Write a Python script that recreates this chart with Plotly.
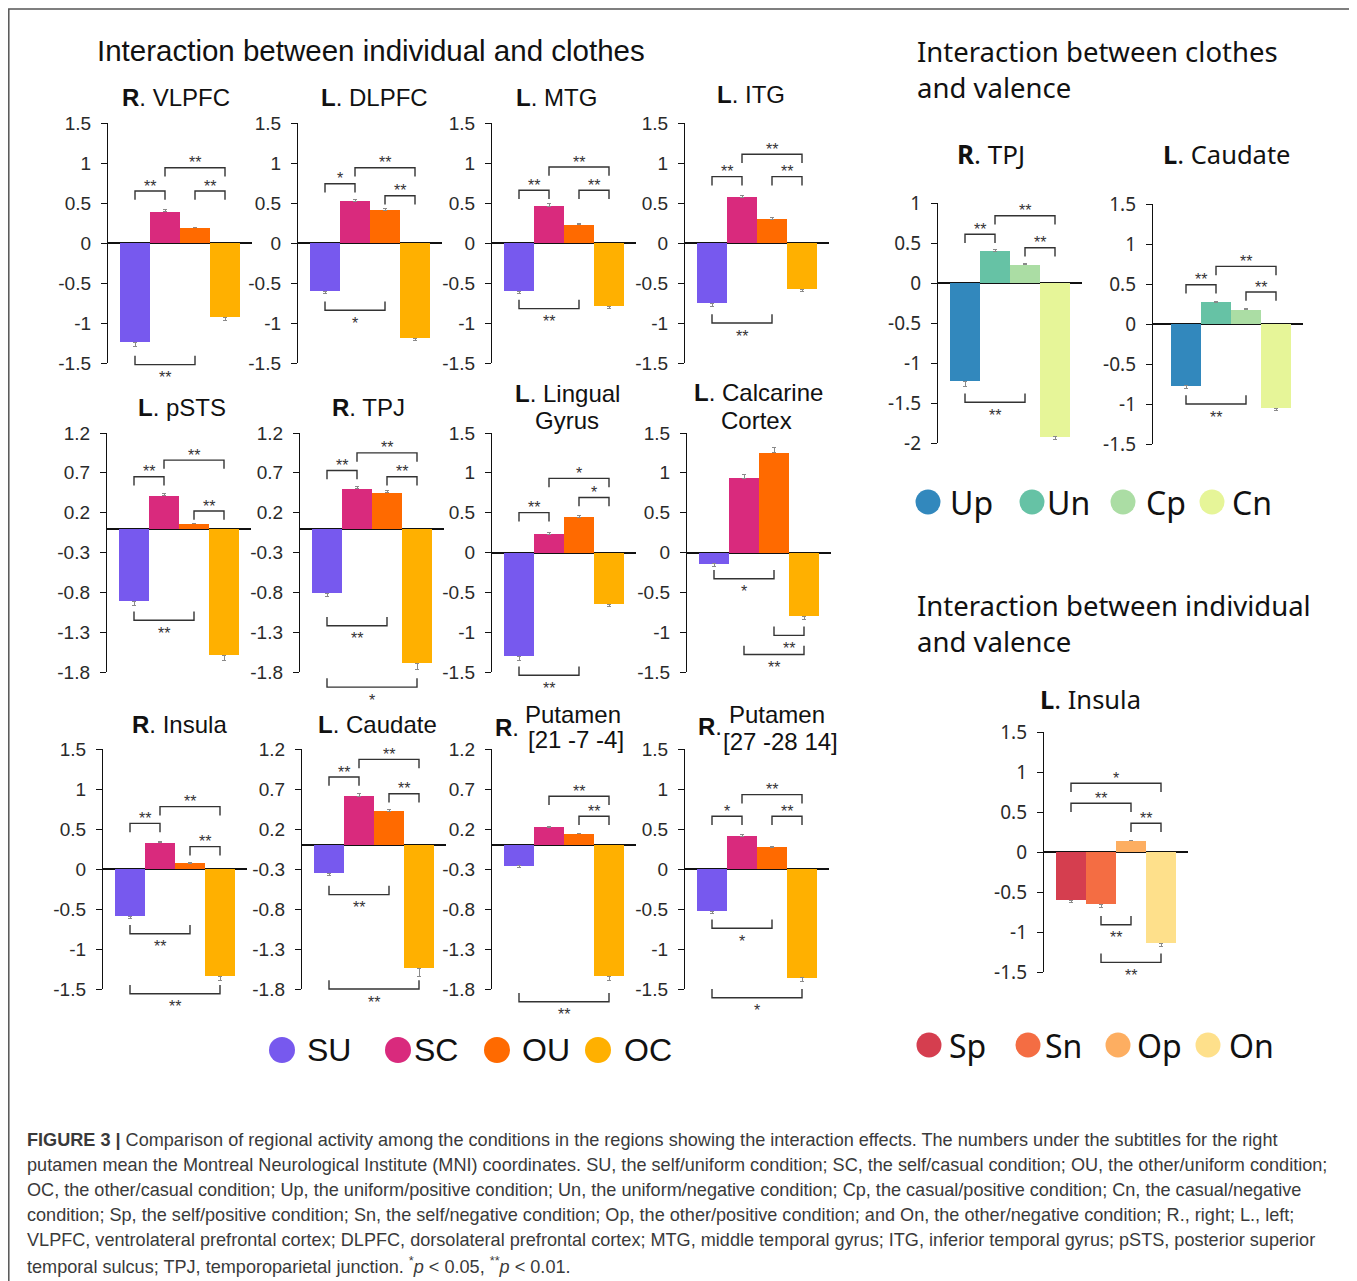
import plotly.graph_objects as go

W, H = 1357, 1281
OFF = 8  # page body margin of the viewer; paper coordinates are shifted by it

# ---------------- data ----------------
COND_IC = ["SU", "SC", "OU", "OC"]
COLORS_IC = ["#7759ee", "#d92a7d", "#ff6a00", "#ffb000"]
COND_CV = ["Up", "Un", "Cp", "Cn"]
COLORS_CV = ["#3288bd", "#66c2a5", "#abdda4", "#e6f598"]
COND_IV = ["Sp", "Sn", "Op", "On"]
COLORS_IV = ["#d53e4f", "#f46d43", "#fdae61", "#fee08b"]

R_VLPFC = [-1.24, 0.39, 0.19, -0.93]
L_DLPFC = [-0.60, 0.52, 0.41, -1.19]
L_MTG = [-0.60, 0.46, 0.23, -0.79]
L_ITG = [-0.75, 0.57, 0.30, -0.58]
L_PSTS = [-0.91, 0.41, 0.06, -1.59]
R_TPJ = [-0.81, 0.50, 0.45, -1.69]
L_LINGUAL = [-1.30, 0.23, 0.44, -0.65]
L_CALCARINE = [-0.14, 0.93, 1.25, -0.80]
R_INSULA = [-0.59, 0.33, 0.07, -1.34]
L_CAUDATE = [-0.35, 0.61, 0.42, -1.54]
R_PUTAMEN_1 = [-0.26, 0.22, 0.14, -1.64]
R_PUTAMEN_2 = [-0.53, 0.41, 0.27, -1.36]
CV_R_TPJ = [-1.23, 0.40, 0.23, -1.92]
CV_L_CAUDATE = [-0.77, 0.27, 0.18, -1.05]
IV_L_INSULA = [-0.60, -0.65, 0.14, -1.14]

ERR_VLPFC = [0.05, 0.03, 0.01, 0.04]
ERR_DLPFC = [0.03, 0.03, 0.02, 0.03]
ERR_MTG = [0.03, 0.03, 0.02, 0.03]
ERR_ITG = [0.04, 0.03, 0.02, 0.03]
ERR_PSTS = [0.05, 0.03, 0.01, 0.06]
ERR_TPJ = [0.04, 0.03, 0.03, 0.08]
ERR_LINGUAL = [0.06, 0.02, 0.02, 0.03]
ERR_CALCARINE = [0.03, 0.05, 0.07, 0.04]
ERR_INSULA = [0.03, 0.02, 0.01, 0.05]
ERR_CAUDATE = [0.03, 0.04, 0.03, 0.10]
ERR_PUT1 = [0.02, 0.01, 0.01, 0.05]
ERR_PUT2 = [0.03, 0.02, 0.01, 0.04]
ERR_CV_TPJ = [0.06, 0.02, 0.01, 0.04]
ERR_CV_CAUD = [0.04, 0.01, 0.01, 0.03]
ERR_IV_INS = [0.03, 0.04, 0.01, 0.04]

# significance brackets: (bar i, bar j, level, side, label)
BR_VLPFC = [(0, 1, 0.65, "t", "**"), (1, 3, 0.94, "t", "**"), (2, 3, 0.65, "t", "**"), (0, 2, -1.52, "b", "**")]
BR_DLPFC = [(0, 1, 0.74, "t", "*"), (1, 3, 0.94, "t", "**"), (2, 3, 0.59, "t", "**"), (0, 2, -0.84, "b", "*")]
BR_MTG = [(0, 1, 0.66, "t", "**"), (1, 3, 0.95, "t", "**"), (2, 3, 0.66, "t", "**"), (0, 2, -0.82, "b", "**")]
BR_ITG = [(0, 1, 0.83, "t", "**"), (1, 3, 1.11, "t", "**"), (2, 3, 0.83, "t", "**"), (0, 2, -1.00, "b", "**")]
BR_PSTS = [(0, 1, 0.65, "t", "**"), (1, 3, 0.86, "t", "**"), (2, 3, 0.22, "t", "**"), (0, 2, -1.15, "b", "**")]
BR_TPJ = [(0, 1, 0.73, "t", "**"), (1, 3, 0.95, "t", "**"), (2, 3, 0.65, "t", "**"), (0, 2, -1.22, "b", "**"), (0, 3, -1.99, "b", "*")]
BR_LINGUAL = [(0, 1, 0.50, "t", "**"), (1, 3, 0.93, "t", "*"), (2, 3, 0.69, "t", "*"), (0, 2, -1.54, "b", "**")]
BR_CALCARINE = [(0, 2, -0.33, "b", "*"), (2, 3, -1.04, "b", "**"), (1, 3, -1.28, "b", "**")]
BR_INSULA = [(0, 1, 0.57, "t", "**"), (1, 3, 0.78, "t", "**"), (2, 3, 0.28, "t", "**"), (0, 2, -0.81, "b", "**"), (0, 3, -1.56, "b", "**")]
BR_CAUDATE = [(0, 1, 0.85, "t", "**"), (1, 3, 1.07, "t", "**"), (2, 3, 0.64, "t", "**"), (0, 2, -0.62, "b", "**"), (0, 3, -1.80, "b", "**")]
BR_PUT1 = [(1, 3, 0.61, "t", "**"), (2, 3, 0.36, "t", "**"), (0, 3, -1.96, "b", "**")]
BR_PUT2 = [(0, 1, 0.66, "t", "*"), (1, 3, 0.93, "t", "**"), (2, 3, 0.66, "t", "**"), (0, 2, -0.74, "b", "*"), (0, 3, -1.61, "b", "*")]
BR_CV_TPJ = [(0, 1, 0.61, "t", "**"), (1, 3, 0.84, "t", "**"), (2, 3, 0.44, "t", "**"), (0, 2, -1.49, "b", "**")]
BR_CV_CAUD = [(0, 1, 0.49, "t", "**"), (1, 3, 0.72, "t", "**"), (2, 3, 0.40, "t", "**"), (0, 2, -1.00, "b", "**")]
BR_IV_INS = [(0, 3, 0.86, "t", "*"), (0, 2, 0.61, "t", "**"), (2, 3, 0.36, "t", "**"), (1, 2, -0.91, "b", "**"), (1, 3, -1.38, "b", "**")]

TICKS_15 = [-1.5, -1, -0.5, 0, 0.5, 1, 1.5]
TICKS_12 = [-1.8, -1.3, -0.8, -0.3, 0.2, 0.7, 1.2]
TICKS_10 = [-2, -1.5, -1, -0.5, 0, 0.5, 1]

ARIAL = "Liberation Sans, Arial, sans-serif"
NOTO = "Noto Sans, sans-serif"
NARROW = "Liberation Sans Narrow, Liberation Sans, sans-serif"

panels = [
    dict(v=R_VLPFC, e=ERR_VLPFC, c=COND_IC, col=COLORS_IC, br=BR_VLPFC, t=TICKS_15, x0=108, yt=123, yb=363),
    dict(v=L_DLPFC, e=ERR_DLPFC, c=COND_IC, col=COLORS_IC, br=BR_DLPFC, t=TICKS_15, x0=298, yt=123, yb=363),
    dict(v=L_MTG, e=ERR_MTG, c=COND_IC, col=COLORS_IC, br=BR_MTG, t=TICKS_15, x0=492, yt=123, yb=363),
    dict(v=L_ITG, e=ERR_ITG, c=COND_IC, col=COLORS_IC, br=BR_ITG, t=TICKS_15, x0=685, yt=123, yb=363),
    dict(v=L_PSTS, e=ERR_PSTS, c=COND_IC, col=COLORS_IC, br=BR_PSTS, t=TICKS_12, x0=107, yt=433, yb=672),
    dict(v=R_TPJ, e=ERR_TPJ, c=COND_IC, col=COLORS_IC, br=BR_TPJ, t=TICKS_12, x0=300, yt=433, yb=672),
    dict(v=L_LINGUAL, e=ERR_LINGUAL, c=COND_IC, col=COLORS_IC, br=BR_LINGUAL, t=TICKS_15, x0=492, yt=433, yb=672),
    dict(v=L_CALCARINE, e=ERR_CALCARINE, c=COND_IC, col=COLORS_IC, br=BR_CALCARINE, t=TICKS_15, x0=687, yt=433, yb=672),
    dict(v=R_INSULA, e=ERR_INSULA, c=COND_IC, col=COLORS_IC, br=BR_INSULA, t=TICKS_15, x0=103, yt=749, yb=989),
    dict(v=L_CAUDATE, e=ERR_CAUDATE, c=COND_IC, col=COLORS_IC, br=BR_CAUDATE, t=TICKS_12, x0=302, yt=749, yb=989),
    dict(v=R_PUTAMEN_1, e=ERR_PUT1, c=COND_IC, col=COLORS_IC, br=BR_PUT1, t=TICKS_12, x0=492, yt=749, yb=989),
    dict(v=R_PUTAMEN_2, e=ERR_PUT2, c=COND_IC, col=COLORS_IC, br=BR_PUT2, t=TICKS_15, x0=685, yt=749, yb=989),
    dict(v=CV_R_TPJ, e=ERR_CV_TPJ, c=COND_CV, col=COLORS_CV, br=BR_CV_TPJ, t=TICKS_10, x0=938, yt=203, yb=443, font=NOTO),
    dict(v=CV_L_CAUDATE, e=ERR_CV_CAUD, c=COND_CV, col=COLORS_CV, br=BR_CV_CAUD, t=TICKS_15, x0=1153, yt=204, yb=444, font=NOTO, xl=-1.1),
    dict(v=IV_L_INSULA, e=ERR_IV_INS, c=COND_IV, col=COLORS_IV, br=BR_IV_INS, t=TICKS_15, x0=1044, yt=732, yb=972, font=NOTO),
]

UNIT = 30.0   # px per category
XR = (-0.9, 3.9)
TL = 0.11     # bracket tick length (data units)
EXT = 0.7     # extra room (data units) of the invisible bracket axes


def px(x):
    return (x - OFF) / W


def py(y):
    return 1 - (y - OFF) / H


fig = go.Figure()
layout_axes = {}
shapes = []
annotations = []
NP = len(panels)

for k, p in enumerate(panels):
    n = k + 1
    sfx = "" if n == 1 else str(n)
    xa, ya = "x" + sfx, "y" + sfx
    bx, by = "x" + str(n + NP), "y" + str(n + NP)
    xl = p.get("xl", XR[0])
    x1 = p["x0"] + (XR[1] - xl) * UNIT
    lo, hi = p["t"][0], p["t"][-1]
    ppu = (p["yb"] - p["yt"]) / (hi - lo)  # pixels per data unit
    vals, errs = p["v"], p["e"]
    fig.add_trace(go.Bar(
        x=list(range(len(vals))), y=vals, width=1.0,
        marker=dict(color=p["col"], line=dict(width=0)),
        error_y=dict(type="data", symmetric=False,
                     array=[e if v > 0 else 0 for v, e in zip(vals, errs)],
                     arrayminus=[e if v < 0 else 0 for v, e in zip(vals, errs)],
                     color="#8a8a8a", thickness=1, width=2),
        hovertext=p["c"], xaxis=xa, yaxis=ya, showlegend=False))
    # empty trace so the (unclipped-room) bracket subplot exists
    fig.add_trace(go.Scatter(x=[], y=[], xaxis=bx, yaxis=by, showlegend=False, hoverinfo="skip"))
    tf = p.get("font", ARIAL)
    layout_axes["xaxis" + sfx] = dict(domain=[px(p["x0"]), px(x1)], range=[xl, XR[1]], visible=False,
                                       anchor=ya, fixedrange=True, automargin=False)
    layout_axes["yaxis" + sfx] = dict(domain=[py(p["yb"]), py(p["yt"])],
                                       range=[lo, hi], anchor=xa, automargin=False,
                                       tickvals=p["t"], ticktext=[f"{t:g}" for t in p["t"]],
                                       showline=True, linecolor="#111", linewidth=1.3,
                                       ticks="outside", ticklen=6, tickwidth=1.3, tickcolor="#111",
                                       ticklabelstandoff=6,
                                       showgrid=False, zeroline=True, zerolinecolor="#111",
                                       zerolinewidth=1.5,
                                       tickfont=dict(family=tf, size=19, color="#2a2a2a"))
    layout_axes["xaxis" + str(n + NP)] = dict(domain=[px(p["x0"]), px(x1)], range=[xl, XR[1]],
                                              visible=False, anchor=by, automargin=False)
    layout_axes["yaxis" + str(n + NP)] = dict(domain=[py(p["yb"] + EXT * ppu), py(p["yt"] - EXT * ppu)],
                                              range=[lo - EXT, hi + EXT], visible=False, anchor=bx,
                                              automargin=False, showgrid=False, zeroline=False)
    for (i, j, lvl, side, lab) in p["br"]:
        h = -TL if side == "t" else TL
        shapes.append(dict(type="path", xref=bx, yref=by,
                           path=f"M {i},{lvl + h} L {i},{lvl} L {j},{lvl} L {j},{lvl + h}",
                           line=dict(color="#333", width=1.4)))
        annotations.append(dict(xref=bx, yref=by, x=(i + j) / 2, y=lvl, text=lab, showarrow=False,
                                yanchor="middle", yshift=5 if side == "t" else -13,
                                font=dict(family=ARIAL, size=16, color="#333")))


def txt(x, y, s, size, family=ARIAL, xanchor="center", color="#111"):
    annotations.append(dict(xref="paper", yref="paper", x=px(x), y=py(y), text=s, showarrow=False,
                            xanchor=xanchor, yanchor="middle", align=xanchor if xanchor != "center" else "center",
                            font=dict(family=family, size=size, color=color)))


# headings
txt(371, 50, "Interaction between individual and clothes", 29.5)
txt(915, 69, "Interaction between clothes<br>and valence", 27.5, NOTO, "left")
txt(915, 623, "Interaction between individual<br>and valence", 27.5, NOTO, "left")

# panel titles
TS = 24
txt(176, 98, "<b>R</b>. VLPFC", TS)
txt(374, 98, "<b>L</b>. DLPFC", TS)
txt(556, 98, "<b>L</b>. MTG", TS)
txt(751, 95, "<b>L</b>. ITG", TS)
txt(182, 407, "<b>L</b>. pSTS", TS)
txt(368, 407, "<b>R</b>. TPJ", TS)
txt(567, 393, "<b>L</b>. Lingual", TS)
txt(567, 420, "Gyrus", TS)
txt(758, 392, "<b>L</b>. Calcarine", TS)
txt(757, 420, "Cortex", TS)
txt(179, 725, "<b>R</b>. Insula", TS)
txt(377, 725, "<b>L</b>. Caudate", TS)
txt(507, 727, "<b>R</b>.", TS)
txt(573, 715, "Putamen", TS)
txt(576, 739, "[21 -7 -4]", TS)
txt(710, 726, "<b>R</b>.", TS)
txt(777, 715, "Putamen", TS)
txt(780, 741, "[27 -28 14]", TS)
txt(991, 154, "<b>R</b>. TPJ", 26, NOTO)
txt(1227, 154, "<b>L</b>. Caudate", 25.5, NOTO)
txt(1090, 699, "<b>L</b>. Insula", 25.5, NOTO)


# legends (circle + label)
def legend(items, colors, cx, tx, y, family, r):
    for name, c, a, b in zip(items, colors, cx, tx):
        shapes.append(dict(type="circle", xref="paper", yref="paper",
                           x0=px(a - r), x1=px(a + r), y0=py(y + r), y1=py(y - r),
                           fillcolor=c, line=dict(width=0)))
        txt(b, y, name, 32, family, "left")


legend(COND_IC, COLORS_IC, [282, 398, 497, 598], [305, 412, 520, 622], 1050, ARIAL, 13)
legend(COND_CV, COLORS_CV, [928, 1032, 1123, 1212], [948, 1045, 1144, 1230], 502, NOTO, 12.5)
legend(COND_IV, COLORS_IV, [929, 1028, 1118, 1208], [947, 1043, 1135, 1227], 1045, NOTO, 12.5)

# frame
shapes.append(dict(type="rect", xref="paper", yref="paper", x0=px(8.8), x1=px(1355), y0=py(1295), y1=py(9),
                   line=dict(color="#555", width=1.5)))

# caption
CAPTION = [
    "<b>FIGURE 3 |</b> Comparison of regional activity among the conditions in the regions showing the interaction effects. The numbers under the subtitles for the right",
    "putamen mean the Montreal Neurological Institute (MNI) coordinates. SU, the self/uniform condition; SC, the self/casual condition; OU, the other/uniform condition;",
    "OC, the other/casual condition; Up, the uniform/positive condition; Un, the uniform/negative condition; Cp, the casual/positive condition; Cn, the casual/negative",
    "condition; Sp, the self/positive condition; Sn, the self/negative condition; Op, the other/positive condition; and On, the other/negative condition; R., right; L., left;",
    "VLPFC, ventrolateral prefrontal cortex; DLPFC, dorsolateral prefrontal cortex; MTG, middle temporal gyrus; ITG, inferior temporal gyrus; pSTS, posterior superior",
    "temporal sulcus; TPJ, temporoparietal junction. <sup>*</sup><i>p</i> &lt; 0.05, <sup>**</sup><i>p</i> &lt; 0.01.",
]
for idx, line in enumerate(CAPTION):
    txt(25, 1140 + 25 * idx, line, 18.1, NARROW, "left", "#3a3a3a")

fig.update_layout(width=W, height=H, margin=dict(l=0, r=0, t=0, b=0, pad=0, autoexpand=False),
                  template="none", paper_bgcolor="white", plot_bgcolor="rgba(0,0,0,0)",
                  bargap=0, showlegend=False, shapes=shapes, annotations=annotations, **layout_axes)

fig.write_html("out.html")
